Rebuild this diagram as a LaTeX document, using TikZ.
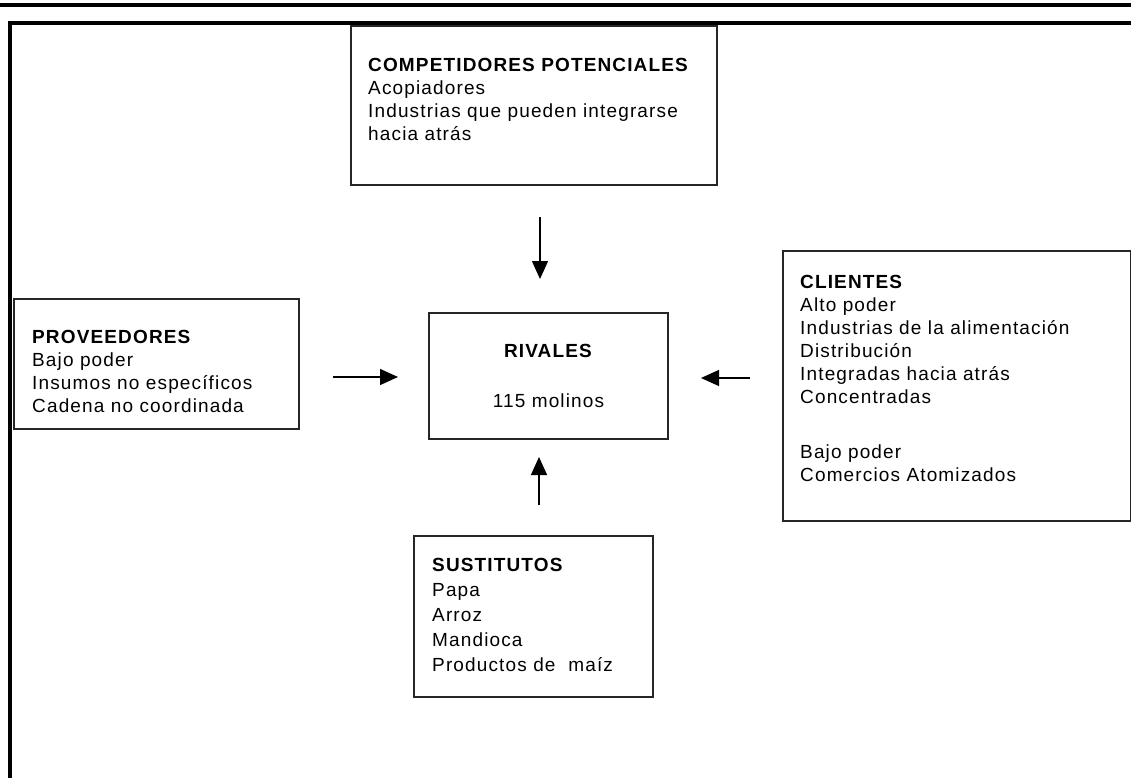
\documentclass[tikz,border=0pt]{standalone}
\usepackage{fontspec}
\setmainfont{Liberation Sans}[LetterSpace=6]
\usetikzlibrary{arrows.meta, positioning}

\tikzset{
  box/.style={draw=black!85, line width=1.7pt, rectangle, inner sep=0pt, anchor=north west},
  txt/.style={anchor=north west, inner sep=0pt, align=left, font=\fontsize{19}{23}\selectfont},
  force/.style={line width=1.4pt, -{Triangle[width=16pt,length=18pt]}}
}

\begin{document}
\begin{tikzpicture}[x=1pt,y=-1pt]
   \useasboundingbox (0,0) rectangle (1131,778);
   % page rules
   \draw[line width=3.5pt] (0,5) -- (1131,5);
   \draw[line width=3.5pt] (1131,23) -- (10,23) -- (10,778);

   % the five forces
   \node[box, minimum width=366pt, minimum height=159pt] (comp) at (350,25) {};
   \node[box, minimum width=285pt, minimum height=130pt] (prov) at (13,298) {};
   \node[box, minimum width=348pt, minimum height=270pt] (cli)  at (782,250) {};
   \node[box, minimum width=239pt, minimum height=161pt] (sust) at (413,535) {};
   \node[box, anchor=center, minimum width=239pt, minimum height=126pt,
         align=center, font=\fontsize{19}{23}\selectfont] (riv) at (548.5,376)
         {\textbf{RIVALES}\\[27pt]115 molinos};

   \node[txt] (comptxt) at ([shift={(18,33)}]comp.north west)
      {\textbf{COMPETIDORES POTENCIALES}\\Acopiadores\\Industrias que pueden integrarse\\hacia atrás};
   \node[txt] (provtxt) at ([shift={(19,32)}]prov.north west)
      {\textbf{PROVEEDORES}\\Bajo poder\\Insumos no específicos\\Cadena no coordinada};
   \node[txt] (clitxt) at ([shift={(18,25)}]cli.north west)
      {\textbf{CLIENTES}\\Alto poder\\Industrias de la alimentación\\Distribución\\Integradas hacia atrás\\Concentradas\\[32pt]Bajo poder\\Comercios Atomizados};
   \node[txt, font=\fontsize{19}{25}\selectfont] (susttxt) at ([shift={(19,23)}]sust.north west)
      {\textbf{SUSTITUTOS}\\Papa\\Arroz\\Mandioca\\Productos de\ \ maíz};

   % arrow ends
   \coordinate (top1) at (540,217);  \coordinate (top2) at (540,279);
   \coordinate (bot1) at (539,505);  \coordinate (bot2) at (539,457);
   \coordinate (lft1) at (333,377);  \coordinate (lft2) at (398,377);
   \coordinate (rgt1) at (750,378);  \coordinate (rgt2) at (701,378);
   \draw[force] (top1) -- (top2);
   \draw[force] (bot1) -- (bot2);
   \draw[force] (lft1) -- (lft2);
   \draw[force] (rgt1) -- (rgt2);
\end{tikzpicture}
\end{document}
